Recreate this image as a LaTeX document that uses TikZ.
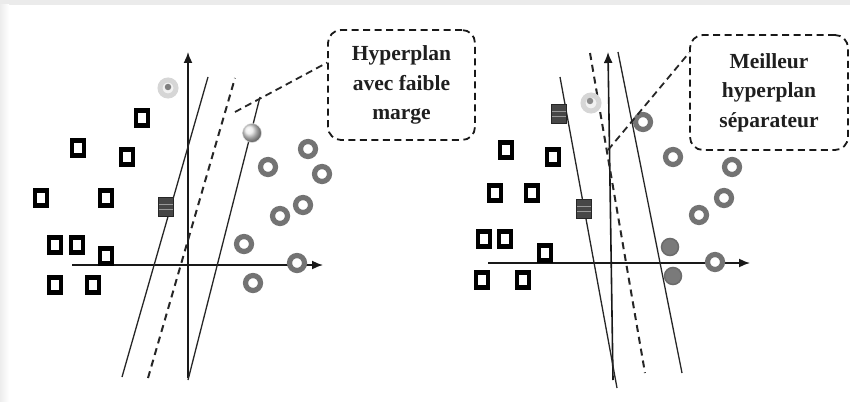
\documentclass[tikz,border=0pt]{standalone}
\usepackage{fontspec}
\setmainfont{Liberation Serif}
\usetikzlibrary{arrows.meta,calc,shadings}

\begin{document}
\begin{tikzpicture}[x=1pt,y=-1pt,
  axis/.style={line width=1.6pt,black!90,-{Latex[length=11pt,width=9pt]}},
  hyp/.style={line width=1.3pt,black!85},
  hypdash/.style={line width=2pt,black!85,dash pattern=on 7pt off 5pt},
  sq/.style={draw=black,line width=4.4pt,minimum width=12pt,minimum height=15pt,inner sep=0pt},
  darksq/.style={draw=black!85,line width=1.2pt,fill=black!72,minimum width=15pt,minimum height=19pt,inner sep=0pt,
    path picture={
      \draw[black!40,line width=0.7pt]
        ($(path picture bounding box.west)+(0,-2.5)$) -- ($(path picture bounding box.east)+(0,-2.5)$)
        ($(path picture bounding box.west)+(0,2.5)$) -- ($(path picture bounding box.east)+(0,2.5)$);}},
  ring/.style={circle,draw=black!55,line width=5.2pt,minimum size=15pt,inner sep=0pt,fill=white},
  dotring/.style={circle,draw=black!16,line width=5pt,minimum size=16pt,inner sep=0pt,fill=black!5},
  dot/.style={circle,fill=black!50,minimum size=6.5pt,inner sep=0pt},
  lightball/.style={circle,shading=ball,ball color=black!9,draw=black!12,line width=0.5pt,minimum size=19pt,inner sep=0pt},
  darkball/.style={circle,fill=black!52,draw=black!58,line width=1.5pt,minimum size=17pt,inner sep=0pt},
  callout/.style={draw=black!90,line width=1.8pt,dash pattern=on 7pt off 4.5pt,rounded corners=13pt,
    align=center,inner sep=0pt,font=\bfseries\fontsize{21.5}{29.5}\selectfont,text=black!88},
  link/.style={line width=1.8pt,black!85,dash pattern=on 7pt off 4.5pt}
]
\useasboundingbox (0,0) rectangle (850,401);
\fill[white] (0,0) rectangle (850,401);
% soft frame along the top and left edges
\fill[black!8] (0,0) rectangle (850,5);
\shade[left color=black!7,right color=white] (0,5) rectangle (9,401);

% ---------- left panel: hyperplane with small margin ----------
\coordinate (lvb) at (188,378);  \coordinate (lvt) at (188,52);
\coordinate (lhl) at (72,265);   \coordinate (lhr) at (323,265);
\coordinate (la1) at (122,377);  \coordinate (la2) at (208,77);
\coordinate (lb1) at (148,378);  \coordinate (lb2) at (235,78);
\coordinate (lc1) at (188,380);  \coordinate (lc2) at (260,97);
\draw[axis] (lvb) -- (lvt);
\draw[axis] (lhl) -- (lhr);
\draw[hyp] (la1) -- (la2);
\draw[hypdash] (lb1) -- (lb2);
\draw[hyp] (lc1) -- (lc2);

\node[sq] (ls1) at (142,118) {};
\node[sq] (ls2) at (78,148) {};
\node[sq] (ls3) at (127,157) {};
\node[sq] (ls4) at (41,198) {};
\node[sq] (ls5) at (106,198) {};
\node[darksq] (ld1) at (166,207) {};
\node[sq] (ls6) at (55,245) {};
\node[sq] (ls7) at (77,245) {};
\node[sq] (ls8) at (106,256) {};
\node[sq] (ls9) at (55,285) {};
\node[sq] (ls10) at (93,285) {};

\node[dotring] (lq) at (168,88) {};
\node[dot] (lqd) at ($(lq)+(0,-1)$) {};
\node[lightball] (lg) at (252,133) {};
\node[ring] (lr1) at (268,167) {};
\node[ring] (lr2) at (308,149) {};
\node[ring] (lr3) at (322,174) {};
\node[ring] (lr4) at (303,205) {};
\node[ring] (lr5) at (280,216) {};
\node[ring] (lr6) at (244,244) {};
\node[ring] (lr7) at (297,263) {};
\node[ring] (lr8) at (253,283) {};

\node[callout,minimum width=147pt,minimum height=110pt] (boxL) at (401.5,85)
  {Hyperplan\\avec faible\\marge};
\coordinate (lt) at (235,112);
\draw[link] (lt) -- ($(boxL.north west)!0.3!(boxL.south west)$);

% ---------- right panel: best separating hyperplane ----------
\coordinate (rvb) at (613,380);  \coordinate (rvt) at (608,52);
\coordinate (rhl) at (488,263);  \coordinate (rhr) at (750,263);
\coordinate (ra1) at (560,77);   \coordinate (ra2) at (617,388);
\coordinate (rb1) at (590,53);   \coordinate (rb2) at (645,373);
\coordinate (rc1) at (618,52);   \coordinate (rc2) at (682,373);
\draw[axis] (rvb) -- (rvt);
\draw[axis] (rhl) -- (rhr);
\draw[hyp] (ra1) -- (ra2);
\draw[hypdash] (rb1) -- (rb2);
\draw[hyp] (rc1) -- (rc2);

\node[darksq] (rd1) at (559,114) {};
\node[sq] (rs1) at (506,150) {};
\node[sq] (rs2) at (553,157) {};
\node[sq] (rs3) at (495,193) {};
\node[sq] (rs4) at (532,193) {};
\node[darksq] (rd2) at (584,209) {};
\node[sq] (rs5) at (484,239) {};
\node[sq] (rs6) at (505,239) {};
\node[sq] (rs7) at (545,253) {};
\node[sq] (rs8) at (482,280) {};
\node[sq] (rs9) at (523,280) {};

\node[dotring] (rq) at (591,103) {};
\node[dot,fill=black!45] (rqd) at ($(rq)+(-1,-2)$) {};
\node[ring] (rr1) at (643,122) {};
\node[ring] (rr2) at (673,157) {};
\node[ring] (rr3) at (732,167) {};
\node[ring] (rr4) at (724,198) {};
\node[ring] (rr5) at (699,215) {};
\node[ring] (rr6) at (715,262) {};
\node[darkball] (rk1) at (670,247) {};
\node[darkball] (rk2) at (673,276) {};

\node[callout,minimum width=158pt,minimum height=115pt] (boxR) at (769,92.5)
  {Meilleur\\hyperplan\\séparateur};
\coordinate (rt) at (608,150);
\draw[link] (rt) -- ($(boxR.north west)!0.16!(boxR.south west)$);
\end{tikzpicture}
\end{document}
